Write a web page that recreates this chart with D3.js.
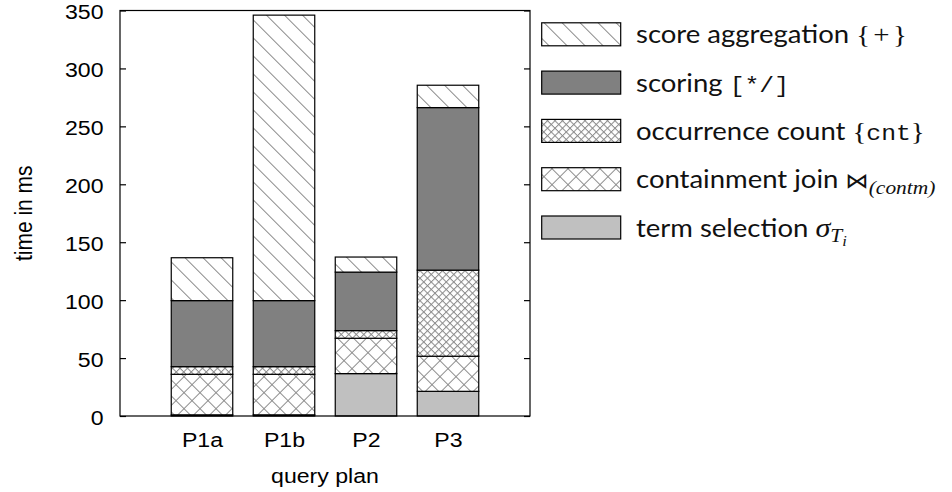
<!DOCTYPE html>
<html>
<head>
<meta charset="utf-8">
<script src="https://cdn.jsdelivr.net/npm/d3@7"></script>
<style>
  html, body { margin: 0; padding: 0; background: #fff; }
  svg { display: block; }
  .helv { font-family: "Liberation Sans", Arimo, Arial, Helvetica, sans-serif; }
</style>
</head>
<body>
<svg id="chart" width="952" height="492"></svg>
<script>
// Query plans and per-phase execution time (ms), stacked bottom to top
const plans = ["P1a", "P1b", "P2", "P3"];
const termSelection    = [1, 1, 36.6, 21.3];
const containmentJoin  = [35, 35, 30.5, 30.3];
const occurrenceCount  = [6.6, 6.6, 6.6, 74.3];
const scoring          = [57, 57, 50.5, 140.3];
const scoreAggregation = [37, 246.4, 13, 19.3];
const yTicks = [0, 50, 100, 150, 200, 250, 300, 350];

const phases = [
  { key: "sel",  values: termSelection,    fill: "#c0c0c0" },
  { key: "join", values: containmentJoin,  fill: "url(#hatch-join)" },
  { key: "cnt",  values: occurrenceCount,  fill: "url(#hatch-cnt)" },
  { key: "sc",   values: scoring,          fill: "#808080" },
  { key: "agg",  values: scoreAggregation, fill: "url(#hatch-agg)" }
];

const svg = d3.select("#chart");
const plotLeft = 120, plotRight = 530, plotTop = 10.5, plotBottom = 416;
const wide = 1.1;   // horizontal widening applied to all lettering

const x = d3.scaleLinear().domain([0, plans.length + 1]).range([plotLeft, plotRight]);
const y = d3.scaleLinear().domain([0, 350]).range([plotBottom, plotTop]);
const barW = x(0.75) - x(0);

// Hatch patterns
const defs = svg.append("defs");
const hatchColor = "#8a8a8a";
function singleHatch(id, gap) {
  const p = defs.append("pattern").attr("id", id)
    .attr("patternUnits", "userSpaceOnUse")
    .attr("width", 20).attr("height", gap)
    .attr("patternTransform", "rotate(45)");
  p.append("rect").attr("width", 20).attr("height", gap).attr("fill", "#fff");
  p.append("line").attr("x1", 0).attr("x2", 20).attr("y1", 0.5).attr("y2", 0.5)
    .attr("stroke", hatchColor).attr("stroke-width", 1);
}
function crossHatch(id, gap) {
  const p = defs.append("pattern").attr("id", id)
    .attr("patternUnits", "userSpaceOnUse")
    .attr("width", gap).attr("height", gap)
    .attr("patternTransform", "rotate(45)");
  p.append("rect").attr("width", gap).attr("height", gap).attr("fill", "#fff");
  p.append("line").attr("x1", 0).attr("x2", gap).attr("y1", 0.5).attr("y2", 0.5)
    .attr("stroke", hatchColor).attr("stroke-width", 1);
  p.append("line").attr("y1", 0).attr("y2", gap).attr("x1", 0.5).attr("x2", 0.5)
    .attr("stroke", hatchColor).attr("stroke-width", 1);
}
singleHatch("hatch-agg", 18 / Math.SQRT2);
crossHatch("hatch-join", 16 / Math.SQRT2);
crossHatch("hatch-cnt", 7.5 / Math.SQRT2);

// Stacked bars
const stacked = plans.map((p, i) => {
  let acc = 0;
  return phases.map(ph => {
    const y0 = acc; acc += ph.values[i];
    return { plan: p, i, y0, y1: acc, fill: ph.fill };
  });
});

svg.append("g").selectAll("g").data(stacked).join("g")
  .selectAll("rect").data(d => d).join("rect")
  .attr("x", d => x(d.i + 1) - barW / 2)
  .attr("width", barW)
  .attr("y", d => y(d.y1))
  .attr("height", d => y(d.y0) - y(d.y1))
  .attr("fill", d => d.fill)
  .attr("stroke", "#000")
  .attr("stroke-width", 1.2);

// Axes
const labelPad = 16.5;
const gl = svg.append("g").attr("transform", `translate(${plotLeft},0)`)
  .call(d3.axisLeft(y).tickValues(yTicks).tickSizeInner(-6).tickSizeOuter(0).tickPadding(labelPad));
const gr = svg.append("g").attr("transform", `translate(${plotRight},0)`)
  .call(d3.axisRight(y).tickValues(yTicks).tickSizeInner(-6).tickSizeOuter(0).tickFormat(""));
const gb = svg.append("g").attr("transform", `translate(0,${plotBottom})`)
  .call(d3.axisBottom(x).tickValues(plans.map((p, i) => i + 1))
    .tickFormat(v => plans[v - 1]).tickSize(0).tickPadding(labelPad));
[gl, gr, gb].forEach(g => {
  g.attr("font-family", null).attr("font-size", null);
  g.select(".domain").remove();
  g.selectAll("line").attr("stroke", "#000").attr("stroke-width", 1.2);
  g.selectAll("text").attr("class", "helv").attr("font-size", 21).attr("fill", "#000")
    .attr("transform", `scale(${wide},1)`);
});
gl.selectAll("text").attr("x", -labelPad / wide).attr("dy", "0.4em");

// Frame
svg.append("rect").attr("x", plotLeft).attr("y", plotTop)
  .attr("width", plotRight - plotLeft).attr("height", plotBottom - plotTop)
  .attr("fill", "none").attr("stroke", "#000").attr("stroke-width", 1.2);

// Axis titles
svg.append("text").attr("class", "helv")
  .attr("transform", `translate(31.5,${(plotTop + plotBottom) / 2}) rotate(-90) scale(1,${wide})`)
  .attr("text-anchor", "middle").attr("font-size", 21)
  .text("time in ms");
svg.append("text").attr("class", "helv")
  .attr("transform", `translate(${(plotLeft + plotRight) / 2},483) scale(${wide},1)`)
  .attr("text-anchor", "middle").attr("font-size", 21)
  .text("query plan");

// Legend
const sans = "Lato, 'Open Sans', sans-serif";
const serif = "'Liberation Serif', 'DejaVu Serif', serif";
const mono = "'Liberation Mono', 'DejaVu Sans Mono', monospace";
const legendItems = [
  { fill: "url(#hatch-agg)", parts: [
      { t: "score aggregation ", f: sans },
      { t: "{", f: serif, s: 1.05 }, { t: "+", f: serif, s: 1.05, dx: 3 }, { t: "}", f: serif, s: 1.05, dx: 3 }] },
  { fill: "#808080", parts: [
      { t: "scoring ", f: sans }, { t: "[*/]", f: mono, s: 0.9 }] },
  { fill: "url(#hatch-cnt)", parts: [
      { t: "occurrence count ", f: sans }, { t: "{", f: serif, s: 1.05 },
      { t: "cnt", f: mono, s: 0.9 }, { t: "}", f: serif, s: 1.05 }] },
  { fill: "url(#hatch-join)", parts: [
      { t: "containment join ", f: sans }, { t: "\u22C8", f: "'DejaVu Sans', sans-serif", s: 0.85 },
      { t: "(contm)", f: serif, it: true, s: 0.78, sub: 6 }] },
  { fill: "#c0c0c0", parts: [
      { t: "term selection ", f: sans }, { t: "\u03C3", f: serif, it: true, s: 1.1 },
      { t: "T", f: serif, it: true, s: 0.78, sub: 5 }, { t: "i", f: serif, it: true, s: 0.6, sub: 9 }] }
];

const lg = svg.append("g");
const rowY = i => 34.3 + i * 48.3;
lg.selectAll("rect").data(legendItems).join("rect")
  .attr("x", 541.7).attr("width", 79)
  .attr("y", (d, i) => rowY(i) - 11.5).attr("height", 23)
  .attr("fill", d => d.fill).attr("stroke", "#000").attr("stroke-width", 1.2);

const legendSize = 25;
lg.selectAll("text").data(legendItems).join("text")
  .attr("transform", (d, i) => `translate(636,${rowY(i) + 9}) scale(${wide},1)`)
  .attr("font-size", legendSize).attr("fill", "#111")
  .each(function(d) {
    const t = d3.select(this);
    let prevSub = 0;
    d.parts.forEach(p => {
      const sub = p.sub || 0;
      t.append("tspan")
        .attr("font-family", p.f)
        .attr("font-style", p.it ? "italic" : "normal")
        .attr("font-size", legendSize * (p.s || 1))
        .attr("dx", p.dx || 0)
        .attr("dy", sub - prevSub)
        .text(p.t);
      prevSub = sub;
    });
  });
</script>
</body>
</html>
